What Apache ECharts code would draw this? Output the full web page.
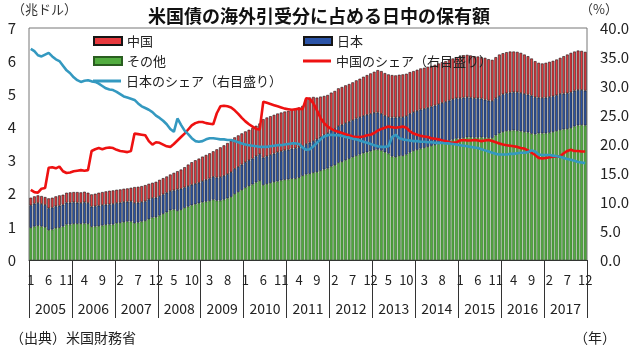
<!DOCTYPE html>
<html><head><meta charset="utf-8">
<script src="https://cdn.jsdelivr.net/npm/echarts@6/dist/echarts.min.js"></script>
<style>html,body{margin:0;padding:0;background:#fff}#c{width:638px;height:355px}</style>
</head><body><div id="c"></div>
<script>
const years = ['2005','2006','2007','2008','2009','2010','2011','2012','2013','2014','2015','2016','2017'];
const monthNums = [1,2,3,4,5,6,7,8,9,10,11,12];
const other = [
 0.97,1.01,1.03,1.01,0.99,0.90,0.92,0.96,0.97,1.01,1.07,1.07,
 1.09,1.09,1.09,1.10,1.09,1.00,1.01,1.02,1.04,1.06,1.07,1.07,
 1.11,1.12,1.14,1.16,1.16,1.11,1.13,1.16,1.18,1.23,1.28,1.29,
 1.34,1.39,1.44,1.50,1.52,1.48,1.51,1.57,1.61,1.65,1.68,1.71,
 1.74,1.76,1.78,1.82,1.79,1.79,1.82,1.86,1.90,1.99,2.05,2.11,
 2.18,2.23,2.28,2.34,2.39,2.26,2.29,2.32,2.35,2.37,2.40,2.42,
 2.43,2.45,2.45,2.48,2.54,2.58,2.60,2.63,2.65,2.69,2.73,2.76,
 2.82,2.86,2.93,2.96,3.01,3.05,3.10,3.14,3.18,3.22,3.25,3.28,
 3.32,3.33,3.30,3.25,3.21,3.12,3.10,3.14,3.14,3.18,3.24,3.29,
 3.32,3.36,3.38,3.41,3.44,3.47,3.50,3.53,3.56,3.60,3.63,3.66,
 3.66,3.68,3.70,3.70,3.69,3.69,3.70,3.69,3.68,3.68,3.76,3.82,
 3.86,3.89,3.90,3.91,3.90,3.88,3.86,3.85,3.81,3.79,3.82,3.82,
 3.82,3.84,3.86,3.89,3.92,3.94,3.95,3.98,4.03,4.06,4.07,4.06
];
const japan = [
 0.68,0.69,0.69,0.68,0.67,0.66,0.66,0.66,0.67,0.66,0.66,0.66,
 0.65,0.64,0.63,0.64,0.63,0.61,0.61,0.62,0.62,0.61,0.61,0.62,
 0.61,0.61,0.61,0.60,0.61,0.61,0.60,0.59,0.59,0.60,0.59,0.59,
 0.59,0.59,0.59,0.58,0.58,0.65,0.64,0.62,0.62,0.62,0.62,0.62,
 0.64,0.66,0.68,0.69,0.70,0.71,0.72,0.73,0.75,0.76,0.76,0.77,
 0.77,0.78,0.78,0.79,0.80,0.83,0.84,0.85,0.86,0.88,0.88,0.89,
 0.90,0.91,0.92,0.92,0.90,0.92,0.94,0.96,0.99,1.03,1.05,1.07,
 1.09,1.10,1.11,1.12,1.12,1.12,1.12,1.13,1.13,1.13,1.13,1.13,
 1.12,1.12,1.11,1.10,1.10,1.18,1.20,1.17,1.17,1.16,1.17,1.17,
 1.18,1.18,1.18,1.18,1.19,1.19,1.20,1.21,1.21,1.21,1.22,1.22,
 1.22,1.22,1.21,1.20,1.19,1.19,1.17,1.15,1.13,1.12,1.12,1.13,
 1.14,1.14,1.15,1.15,1.16,1.16,1.15,1.14,1.15,1.12,1.08,1.07,
 1.08,1.08,1.08,1.08,1.09,1.08,1.08,1.08,1.08,1.07,1.06,1.05
];
const china = [
 0.23,0.22,0.23,0.24,0.24,0.30,0.30,0.30,0.31,0.30,0.30,0.31,
 0.31,0.32,0.32,0.32,0.31,0.37,0.38,0.39,0.39,0.40,0.41,0.41,
 0.40,0.40,0.40,0.40,0.41,0.48,0.48,0.48,0.49,0.47,0.46,0.48,
 0.49,0.49,0.49,0.50,0.53,0.55,0.58,0.61,0.65,0.68,0.71,0.73,
 0.74,0.75,0.76,0.77,0.85,0.90,0.92,0.94,0.95,0.95,0.95,0.94,
 0.93,0.92,0.92,0.92,0.93,1.16,1.17,1.17,1.17,1.17,1.17,1.17,
 1.17,1.17,1.19,1.20,1.21,1.35,1.36,1.33,1.26,1.21,1.17,1.15,
 1.14,1.14,1.14,1.14,1.14,1.14,1.14,1.15,1.16,1.18,1.20,1.22,
 1.24,1.28,1.29,1.29,1.29,1.28,1.27,1.28,1.29,1.28,1.26,1.24,
 1.24,1.24,1.24,1.24,1.23,1.23,1.23,1.23,1.23,1.23,1.23,1.24,
 1.27,1.28,1.28,1.27,1.27,1.26,1.25,1.26,1.25,1.24,1.24,1.25,
 1.24,1.24,1.24,1.23,1.22,1.21,1.19,1.16,1.12,1.09,1.05,1.04,
 1.05,1.06,1.07,1.08,1.09,1.13,1.17,1.19,1.18,1.19,1.18,1.17
];
const chinaShare = [
 12.1,11.7,11.6,12.3,12.4,15.9,16.0,15.8,16.1,15.3,15.0,15.1,
 15.3,15.4,15.5,15.4,15.5,18.8,19.1,19.3,19.1,19.3,19.4,19.3,
 19.0,18.8,18.7,18.6,18.8,21.8,21.7,21.6,21.5,20.5,19.9,20.3,
 20.2,19.9,19.6,19.5,20.0,20.6,21.2,21.8,22.5,23.2,23.6,23.8,
 23.8,23.6,23.5,23.4,25.3,26.5,26.6,26.5,26.3,25.8,25.2,24.5,
 23.9,23.4,23.0,22.6,22.5,27.3,27.1,26.9,26.7,26.5,26.3,26.1,
 26.0,25.9,26.0,26.1,26.0,27.9,27.8,27.0,25.8,24.5,23.6,23.0,
 22.6,22.3,22.1,21.9,21.7,21.5,21.3,21.2,21.2,21.3,21.5,21.6,
 21.9,22.3,22.6,22.8,23.0,22.9,22.8,22.9,23.0,22.8,22.2,21.8,
 21.6,21.4,21.3,21.2,21.0,20.9,20.8,20.6,20.5,20.3,20.2,20.3,
 20.6,20.7,20.6,20.6,20.7,20.6,20.5,20.6,20.7,20.5,20.3,20.1,
 19.9,19.8,19.7,19.6,19.5,19.3,19.2,18.9,18.5,18.1,17.6,17.5,
 17.6,17.7,17.8,17.8,17.9,18.4,18.8,19.0,18.8,18.8,18.7,18.7
];
const japanShare = [
 36.4,36.0,35.3,35.1,35.4,35.7,35.1,34.6,34.3,33.5,32.7,32.2,
 31.5,31.0,30.7,30.9,31.0,30.8,30.7,30.4,30.0,29.6,29.4,29.3,
 29.0,28.6,28.2,28.0,27.8,27.6,27.0,26.5,26.2,25.9,25.5,24.9,
 24.5,24.0,23.4,22.6,22.1,24.4,23.3,22.3,21.7,21.0,20.5,20.4,
 20.5,20.8,21.0,21.0,20.9,20.8,20.8,20.7,20.7,20.5,20.3,20.1,
 19.9,19.8,19.7,19.6,19.5,19.5,19.5,19.6,19.7,19.8,19.8,19.9,
 20.0,20.1,20.1,20.0,19.4,19.0,19.1,19.6,20.2,20.8,21.3,21.5,
 21.6,21.5,21.5,21.4,21.2,21.1,20.9,20.8,20.6,20.4,20.2,20.0,
 19.8,19.6,19.5,19.5,19.6,21.2,21.6,21.0,20.8,20.7,20.6,20.5,
 20.5,20.4,20.4,20.3,20.3,20.2,20.2,20.2,20.1,20.1,20.0,19.9,
 19.8,19.7,19.6,19.5,19.4,19.3,19.1,18.9,18.7,18.5,18.3,18.2,
 18.2,18.2,18.3,18.3,18.4,18.5,18.5,18.6,18.9,18.7,18.2,18.1,
 18.1,18.1,18.0,17.9,17.8,17.6,17.4,17.3,17.1,16.9,16.8,16.7
];
const leftTicks = [0,1,2,3,4,5,6,7];
const rightTicks = [0,5,10,15,20,25,30,35,40];

const months = [];
years.forEach(y => monthNums.forEach(m => months.push(y + '/' + m)));

const FONT = '"Noto Sans CJK JP", "Noto Sans", sans-serif';
const chart = echarts.init(document.getElementById('c'), null, {renderer: 'canvas'});
const barBorder = {borderColor: '#151515', borderWidth: 0.6};
const legTxt = {fontSize: 13, color: '#222', lineHeight: 14, fontFamily: FONT};
chart.setOption({
  animation: false,
  textStyle: {fontFamily: FONT},
  title: {
    text: '米国債の海外引受分に占める日中の保有額',
    left: 'center', top: 2,
    textStyle: {fontSize: 18, fontWeight: 'bold', color: '#111', fontFamily: FONT}
  },
  grid: {left: 29, right: 51, top: 28, bottom: 95, show: true, borderColor: '#777', borderWidth: 1, backgroundColor: 'transparent'},
  legend: [
    {orient: 'vertical', left: 88, top: 29, itemWidth: 28, itemHeight: 8, itemGap: 6, textStyle: legTxt,
     data: [{name: '中国', icon: 'rect'}, {name: 'その他', icon: 'rect'}]},
    {orient: 'vertical', left: 298, top: 29, itemWidth: 28, itemHeight: 8, itemGap: 6, textStyle: legTxt,
     data: [{name: '日本', icon: 'rect'}]},
    {orient: 'vertical', left: 298, top: 49, itemWidth: 28, itemHeight: 3, itemGap: 6, textStyle: legTxt,
     data: [{name: '中国のシェア（右目盛り）', icon: 'rect'}]},
    {orient: 'vertical', left: 88, top: 69, itemWidth: 28, itemHeight: 3, itemGap: 6, textStyle: legTxt,
     data: [{name: '日本のシェア（右目盛り）', icon: 'rect'}]}
  ],
  xAxis: [
    {type: 'category', data: months, position: 'bottom',
     axisLine: {show: true, lineStyle: {color: '#333'}},
     axisTick: {show: false},
     axisLabel: {interval: 4, margin: 14, fontSize: 13, color: '#222',
       formatter: v => v.split('/')[1]}},
    {type: 'category', data: years, position: 'bottom', gridIndex: 0,
     axisLine: {show: false},
     axisTick: {show: true, length: 58, lineStyle: {color: '#333', width: 1}},
     axisLabel: {margin: 42, fontSize: 14, color: '#222'}}
  ],
  yAxis: [
    {type: 'value', min: 0, max: 7, interval: 1,
     axisLine: {show: false}, axisTick: {show: false}, splitLine: {show: false},
     axisLabel: {margin: 13, fontSize: 15, color: '#222', formatter: v => leftTicks.includes(v) ? String(v) : ''}},
    {type: 'value', min: 0, max: 40, interval: 5, position: 'right',
     axisLine: {show: false}, axisTick: {show: false}, splitLine: {show: false},
     axisLabel: {margin: 13, fontSize: 15, color: '#222', formatter: v => rightTicks.includes(v) ? v.toFixed(1) : ''}}
  ],
  series: [
    {name: 'その他', type: 'bar', stack: 'h', data: other, barCategoryGap: '22%',
     itemStyle: {color: '#52ad40', borderColor: '#2a5e20', borderWidth: 0.6}},
    {name: '日本', type: 'bar', stack: 'h', data: japan,
     itemStyle: Object.assign({color: '#2b54a8'}, barBorder)},
    {name: '中国', type: 'bar', stack: 'h', data: china,
     itemStyle: Object.assign({color: '#e8393e'}, barBorder)},
    {name: '中国のシェア（右目盛り）', type: 'line', yAxisIndex: 1, data: chinaShare,
     symbol: 'none', z: 5, lineStyle: {color: '#ee1111', width: 2.6}, itemStyle: {color: '#ee1111'}},
    {name: '日本のシェア（右目盛り）', type: 'line', yAxisIndex: 1, data: japanShare,
     symbol: 'none', z: 5, lineStyle: {color: '#3499c0', width: 2.6}, itemStyle: {color: '#3499c0'}}
  ],
  graphic: [
    {type: 'text', left: 12, top: 3, style: {text: '（兆ドル）', fontSize: 13, fill: '#333', fontFamily: FONT}},
    {type: 'text', left: 580, top: 3, style: {text: '（%）', fontSize: 13, fill: '#333', fontFamily: FONT}},
    {type: 'text', left: 10, top: 331, style: {text: '（出典）米国財務省', fontSize: 14, fill: '#222', fontFamily: FONT}},
    {type: 'text', left: 574, top: 331, style: {text: '（年）', fontSize: 14, fill: '#222', fontFamily: FONT}}
  ]
});
</script></body></html>
